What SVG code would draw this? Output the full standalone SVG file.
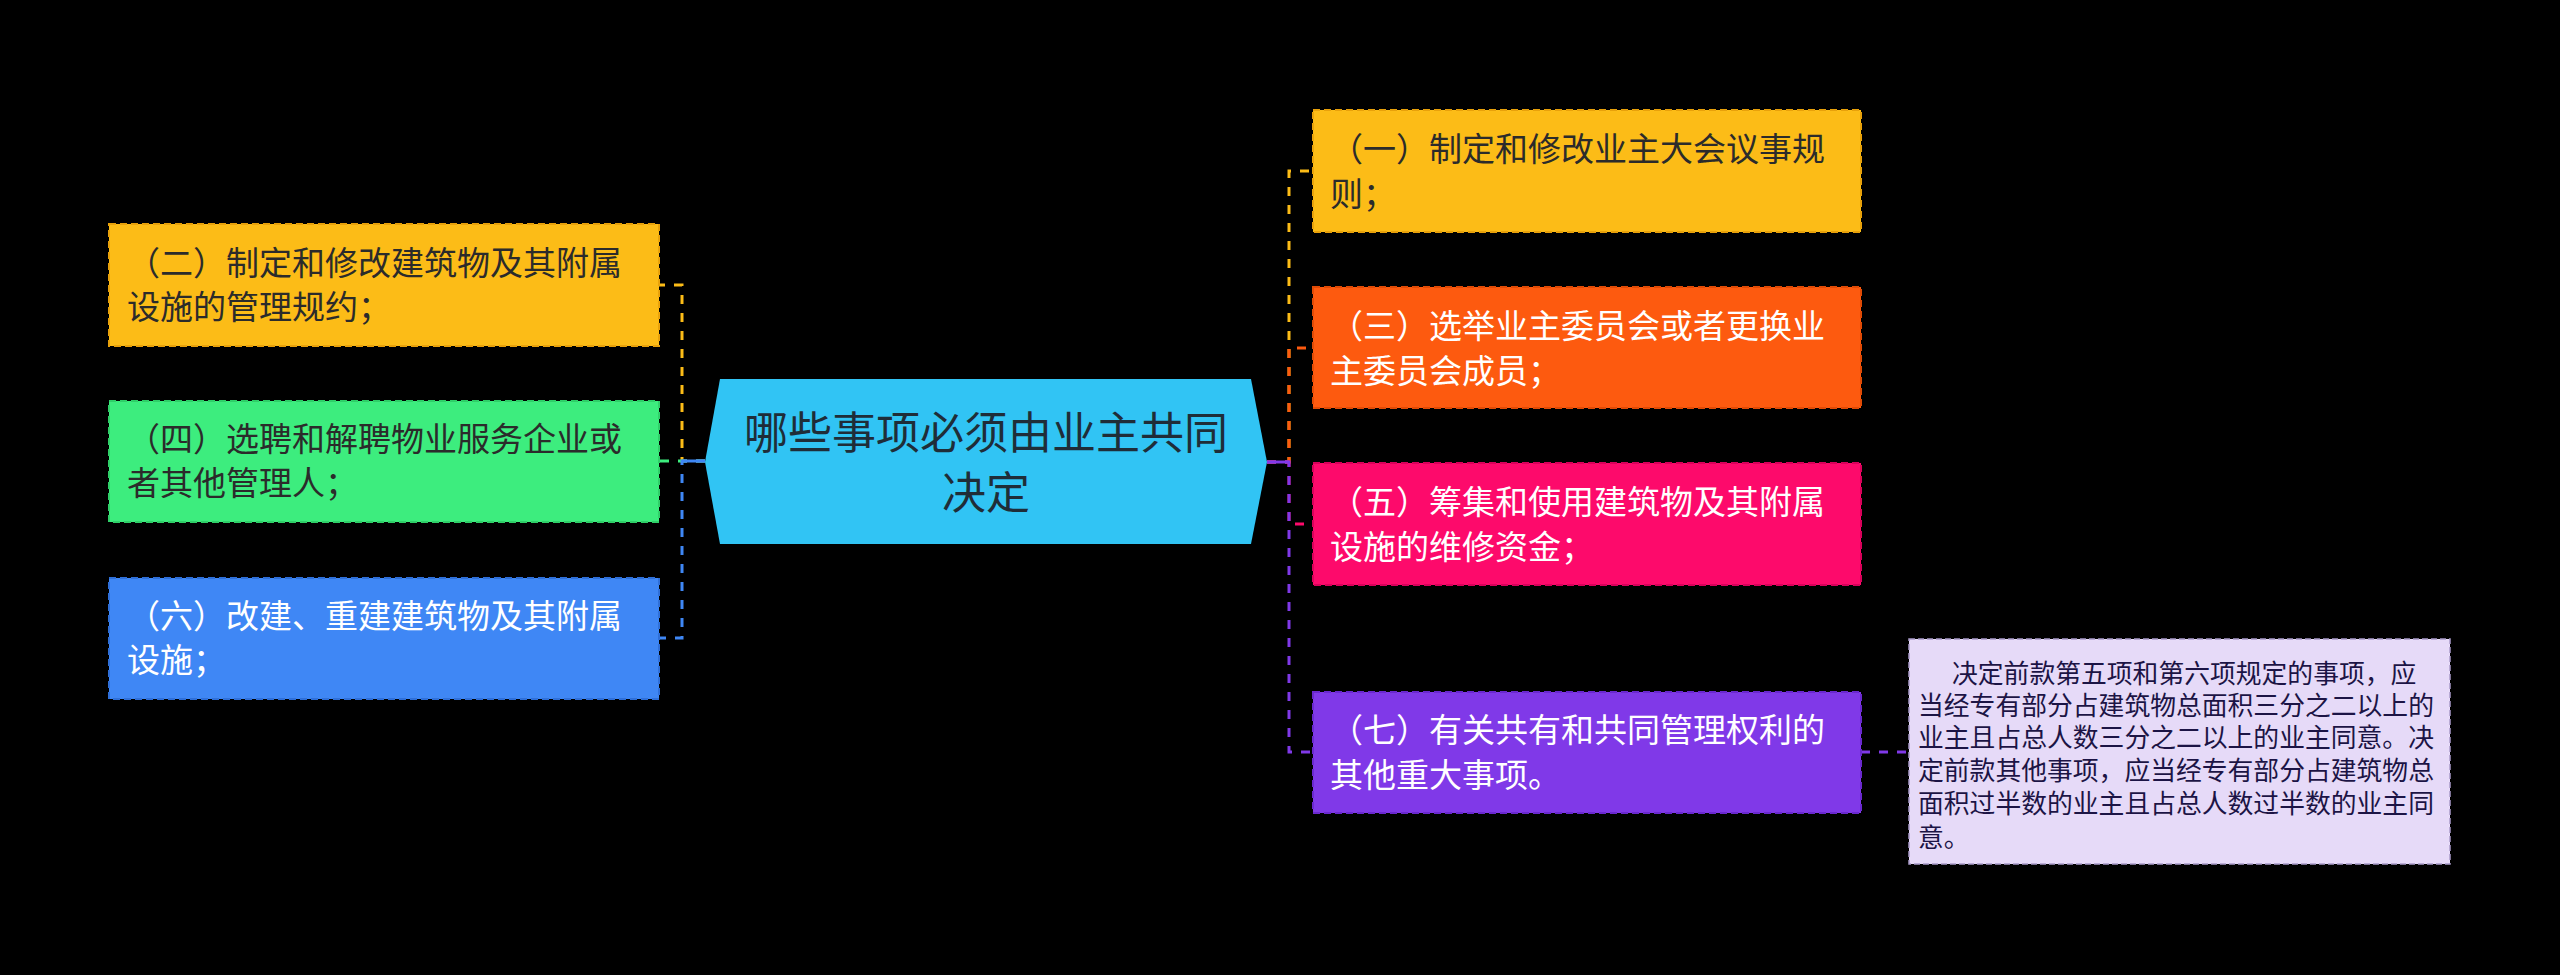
<svg xmlns="http://www.w3.org/2000/svg" width="2560" height="975" viewBox="0 0 2560 975">
<style>
text{font-family:"Noto Sans CJK SC","Noto Sans",sans-serif;}
.t{font-size:33px;}
.dk{fill:#2b2b2b;}
.wt{fill:#ffffff;}
.box{stroke-width:2;stroke-dasharray:7 4;}
.c{fill:none;stroke-width:3;stroke-dasharray:9 9;}
.note{font-size:25.8px;fill:#1c1445;}
</style>
<rect x="0" y="0" width="2560" height="975" fill="#000000"/>
<g id="connectors">
<path class="c" d="M705 461 H682 V285 H659" stroke="#fcbc17"/>
<path class="c" d="M705 461 H682 H659" stroke="#3ded7e"/>
<path class="c" d="M705 461 H682 V638 H659" stroke="#3f87f5"/>
<line x1="682" y1="461" x2="705" y2="461" stroke="#3f87f5" stroke-width="3"/>
<path class="c" d="M1267 462 H1289 V171 H1313" stroke="#fcbc17"/>
<path class="c" d="M1267 462 H1289 V348 H1313" stroke="#fd5a0f"/>
<path class="c" d="M1267 462 H1289 V524 H1313" stroke="#fd0a6b"/>
<path class="c" d="M1267 462 H1289 V752 H1313" stroke="#8039e8"/>
<line x1="1267" y1="462" x2="1289" y2="462" stroke="#8039e8" stroke-width="3"/>
<path class="c" d="M1861 752 H1908" stroke="#8039e8" stroke-dasharray="12 8"/>
</g>
<g id="center">
<polygon points="720,379 1251,379 1267,462 1251,544 720,544 705,462" fill="#31c4f4"/>
<text x="986" y="449" font-size="44" fill="#1f2d38" text-anchor="middle">哪些事项必须由业主共同</text>
<text x="986" y="509" font-size="44" fill="#1f2d38" text-anchor="middle">决定</text>
</g>
<g id="n2">
<rect class="box" x="109" y="224" width="550" height="122" fill="#fcbc17" stroke="#e8a10a"/>
<text class="t dk" x="127" y="275">（二）制定和修改建筑物及其附属</text>
<text class="t dk" x="127" y="319">设施的管理规约；</text>
</g>
<g id="n4">
<rect class="box" x="109" y="401" width="550" height="121" fill="#3ded7e" stroke="#2fcf68"/>
<text class="t dk" x="127" y="451">（四）选聘和解聘物业服务企业或</text>
<text class="t dk" x="127" y="495">者其他管理人；</text>
</g>
<g id="n6">
<rect class="box" x="109" y="578" width="550" height="121" fill="#3f87f5" stroke="#2f6fd8"/>
<text class="t wt" x="127" y="628">（六）改建、重建建筑物及其附属</text>
<text class="t wt" x="127" y="672">设施；</text>
</g>
<g id="n1">
<rect class="box" x="1313" y="110" width="548" height="122" fill="#fcbc17" stroke="#e8a10a"/>
<text class="t dk" x="1330" y="161">（一）制定和修改业主大会议事规</text>
<text class="t dk" x="1330" y="206">则；</text>
</g>
<g id="n3">
<rect class="box" x="1313" y="287" width="548" height="121" fill="#fd5a0f" stroke="#e04a05"/>
<text class="t wt" x="1330" y="338">（三）选举业主委员会或者更换业</text>
<text class="t wt" x="1330" y="383">主委员会成员；</text>
</g>
<g id="n5">
<rect class="box" x="1313" y="463" width="548" height="122" fill="#fd0a6b" stroke="#d9005a"/>
<text class="t wt" x="1330" y="514">（五）筹集和使用建筑物及其附属</text>
<text class="t wt" x="1330" y="559">设施的维修资金；</text>
</g>
<g id="n7">
<rect class="box" x="1313" y="692" width="548" height="121" fill="#8039e8" stroke="#6a28cf"/>
<text class="t wt" x="1330" y="742">（七）有关共有和共同管理权利的</text>
<text class="t wt" x="1330" y="787">其他重大事项。</text>
</g>
<g id="note">
<rect x="1909" y="639" width="541" height="225" fill="#e6daf8" stroke="#a99bc9" stroke-width="1.5" stroke-dasharray="6 3"/>
<text class="note" x="1952" y="683">决定前款第五项和第六项规定的事项，应</text>
<text class="note" x="1918" y="715">当经专有部分占建筑物总面积三分之二以上的</text>
<text class="note" x="1918" y="747">业主且占总人数三分之二以上的业主同意。决</text>
<text class="note" x="1918" y="780">定前款其他事项，应当经专有部分占建筑物总</text>
<text class="note" x="1918" y="813">面积过半数的业主且占总人数过半数的业主同</text>
<text class="note" x="1918" y="847">意。</text>
</g>
</svg>
